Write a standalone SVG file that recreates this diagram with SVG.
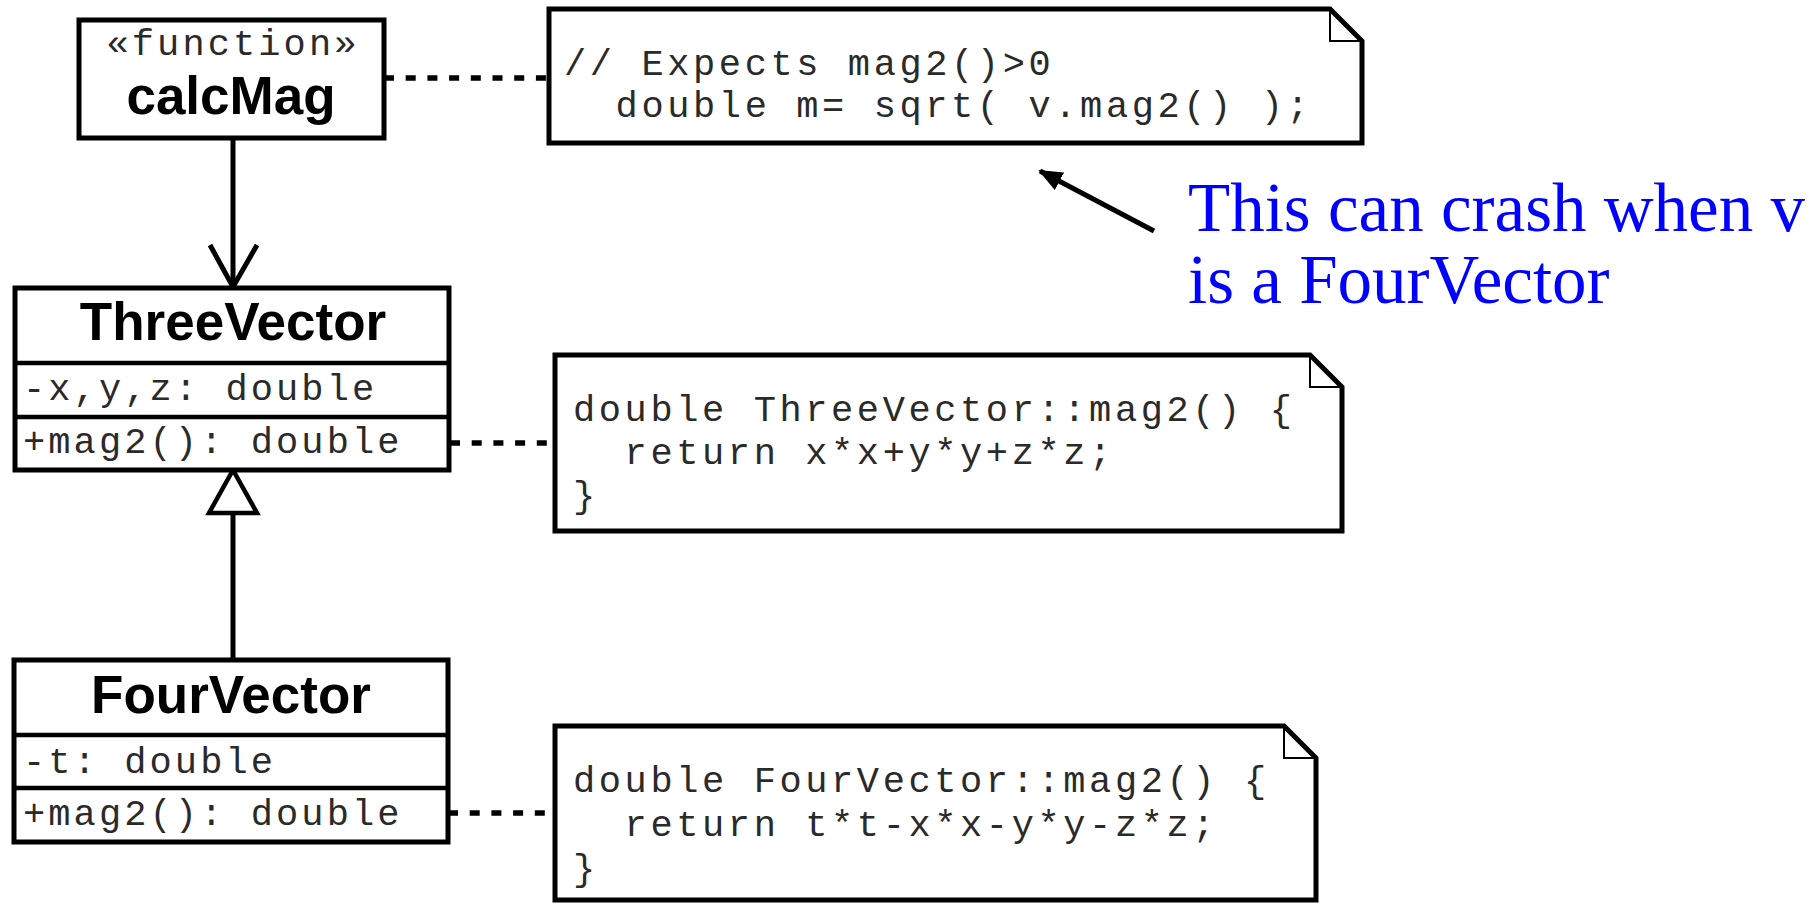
<svg xmlns="http://www.w3.org/2000/svg" width="1818" height="903" viewBox="0 0 1818 903">
  <style>
    .box { fill: #fff; stroke: #000; stroke-width: 5; }
    .div { stroke: #000; stroke-width: 4.5; }
    .note { fill: #fff; stroke: #000; stroke-width: 5; stroke-linejoin: miter; }
    .fold { fill: none; stroke: #000; stroke-width: 2; }
    .title { font-family: "Liberation Sans", Arial, sans-serif; font-weight: bold; font-size: 53px; fill: #000; text-anchor: middle; }
    .mono { font-family: "Liberation Mono", "Courier New", monospace; font-size: 37px; letter-spacing: 3.1px; fill: #2a2a2a; white-space: pre; }
    .code { font-family: "Liberation Mono", "Courier New", monospace; font-size: 37px; letter-spacing: 3.6px; fill: #2a2a2a; white-space: pre; }
    .remark { font-family: "Liberation Serif", "Times New Roman", serif; font-size: 69px; fill: #0000ff; }
    .line { fill: none; stroke: #000; stroke-width: 5; }
    .dash { fill: none; stroke: #000; stroke-width: 5.5; stroke-dasharray: 10 11.7; }
  </style>
  <defs>
    <marker id="solidHead" viewBox="0 0 24 20" refX="22" refY="10" markerWidth="24" markerHeight="20" markerUnits="userSpaceOnUse" orient="auto">
      <path d="M0,0 L24,10 L0,20 Z" fill="#000"/>
    </marker>
  </defs>
  <rect width="1818" height="903" fill="#fff"/>

  <!-- relationships -->
  <g id="connectors">
    <!-- calcMag uses ThreeVector (open arrow) -->
    <line class="line" x1="233" y1="138" x2="233" y2="286"/>
    <polyline class="line" stroke-width="4.5" points="210,245 233,287 257,245"/>
    <!-- FourVector generalizes ThreeVector (hollow triangle) -->
    <line class="line" x1="233" y1="660" x2="233" y2="513"/>
    <polygon points="233,470 209,513 257,513" fill="#fff" stroke="#000" stroke-width="4.5" stroke-linejoin="miter"/>
    <!-- note anchors -->
    <line class="dash" x1="384" y1="78" x2="549" y2="78"/>
    <line class="dash" x1="450" y1="443" x2="555" y2="443"/>
    <line class="dash" x1="448" y1="813" x2="555" y2="813"/>
    <!-- remark pointer -->
    <line class="line" x1="1154" y1="231" x2="1040" y2="171" marker-end="url(#solidHead)"/>
  </g>

  <g id="calcMag">
    <rect class="box" x="79" y="20" width="305" height="118"/>
    <text class="mono" x="233" y="55" font-size="36" text-anchor="middle">«function»</text>
    <text class="title" x="231" y="114">calcMag</text>
  </g>

  <g id="ThreeVector">
    <rect class="box" x="15" y="288" width="434" height="182"/>
    <line class="div" x1="15" y1="363" x2="449" y2="363"/>
    <line class="div" x1="15" y1="417" x2="449" y2="417"/>
    <text class="title" x="233" y="340">ThreeVector</text>
    <text class="mono" x="23" y="400">-x,y,z: double</text>
    <text class="mono" x="23" y="453">+mag2(): double</text>
  </g>

  <g id="FourVector">
    <rect class="box" x="14" y="660" width="434" height="182"/>
    <line class="div" x1="14" y1="735" x2="448" y2="735"/>
    <line class="div" x1="14" y1="788" x2="448" y2="788"/>
    <text class="title" x="231" y="713">FourVector</text>
    <text class="mono" x="23" y="773">-t: double</text>
    <text class="mono" x="23" y="825">+mag2(): double</text>
  </g>

  <g id="note-calcMag">
    <path class="note" d="M549,9 H1330 L1362,41 V143 H549 Z"/>
    <path class="fold" d="M1330,9 V41 H1362"/>
    <text class="code" x="564" y="75">// Expects mag2()&gt;0</text>
    <text class="code" x="564" y="117">  double m= sqrt( v.mag2() );</text>
  </g>

  <g id="note-ThreeVector">
    <path class="note" d="M555,355 H1310 L1342,387 V531 H555 Z"/>
    <path class="fold" d="M1310,355 V387 H1342"/>
    <text class="code" x="573" y="421">double ThreeVector::mag2() {</text>
    <text class="code" x="573" y="464">  return x*x+y*y+z*z;</text>
    <text class="code" x="573" y="507">}</text>
  </g>

  <g id="note-FourVector">
    <path class="note" d="M555,726 H1284 L1316,758 V900 H555 Z"/>
    <path class="fold" d="M1284,726 V758 H1316"/>
    <text class="code" x="573" y="792">double FourVector::mag2() {</text>
    <text class="code" x="573" y="836">  return t*t-x*x-y*y-z*z;</text>
    <text class="code" x="573" y="880">}</text>
  </g>

  <g id="remark">
    <text class="remark" x="1188" y="231">This can crash when v</text>
    <text class="remark" x="1188" y="303">is a FourVector</text>
  </g>
</svg>
